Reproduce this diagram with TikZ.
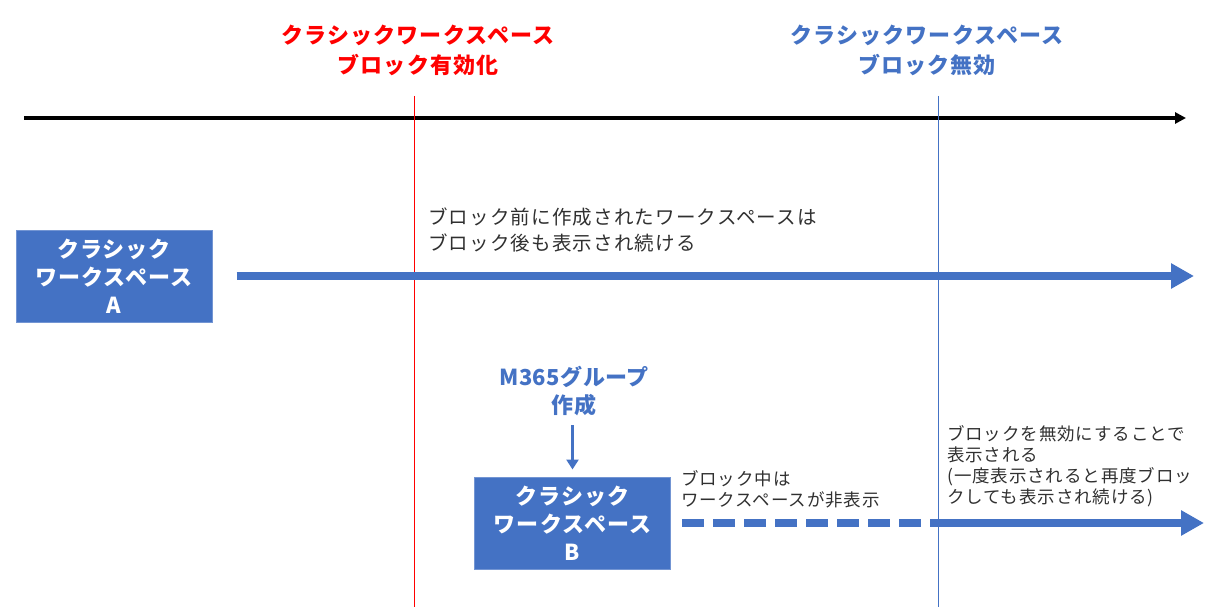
\documentclass[tikz,border=0pt]{standalone}
\usepackage{fontspec}
\setmainfont{Noto Sans CJK JP}
\newfontfamily\jpwide{Noto Sans CJK JP}[LetterSpace=5]
\newfontfamily\jpbody{Noto Sans CJK JP}[LetterSpace=6]
\newfontfamily\jpnarrow{Noto Sans CJK JP}[LetterSpace=2]
\usetikzlibrary{arrows.meta}
\definecolor{mblue}{HTML}{4472C4}
\definecolor{mred}{HTML}{FF0000}
\definecolor{mtext}{HTML}{303030}
\tikzset{
  wsbox/.style={rectangle, fill=mblue, draw=mblue!75!white, line width=1pt, text=white,
    font=\jpwide\fontsize{22}{28}\selectfont\bfseries, align=center, inner sep=0pt,
    minimum width=196pt, minimum height=92pt},
  toplabel/.style={font=\jpwide\fontsize{22}{30}\selectfont\bfseries, align=center, inner sep=0pt},
  m365label/.style={font=\jpnarrow\fontsize{22}{28}\selectfont\bfseries, align=center, inner sep=0pt},
  bodytext/.style={text=mtext, font=\jpbody\fontsize{19.5}{26}\selectfont, align=left, inner sep=0pt, anchor=west},
  smalltext/.style={text=mtext, font=\jpwide\fontsize{17.5}{21}\selectfont, align=left, inner sep=0pt, anchor=west},
  vline/.style={line width=1pt},
  thickarrow/.style={mblue, line width=8pt, -{Triangle[length=23pt,width=24pt]}},
}
\begin{document}
\begin{tikzpicture}[x=1pt,y=-1pt]
\useasboundingbox (0,0) rectangle (1220,607);
% axis
\coordinate (axs) at (24,118);
\coordinate (axe) at (1186,118);
\draw[line width=3.5pt, -{Triangle[length=11pt,width=11pt]}] (axs) -- (axe);
% vertical lines
\coordinate (rt) at (414,96);
\coordinate (rb) at (414,607);
\coordinate (bt) at (938,96);
\coordinate (bb) at (938,607);
\draw[vline, mred] (rt) -- (rb);
\draw[vline, mblue] (bt) -- (bb);
% top labels
\node[toplabel, text=mred] (lred) at (418,50) {クラシックワークスペース\\ブロック有効化};
\node[toplabel, text=mblue] (lblue) at (927,50) {クラシックワークスペース\\ブロック無効};
% box A
\node[wsbox] (boxA) at (114,276) {クラシック\\ワークスペース\\A};
\coordinate (aend) at (1194,276);
\draw[thickarrow] ([xshift=24pt]boxA.east) -- (aend);
\node[bodytext] (tA) at (428,230) {ブロック前に作成されたワークスペースは\\ブロック後も表示され続ける};
% M365
\node[m365label, text=mblue] (m365) at (574,391) {M365グループ\\作成};
% box B
\node[wsbox] (boxB) at (572.5,523) {クラシック\\ワークスペース\\B};
\draw[mblue, line width=3pt, -{Triangle[length=10pt,width=12pt]}] ([yshift=-9pt]boxB.north |- m365.south) -- ([yshift=7pt]boxB.north);
\coordinate (dend) at (937,523);
\coordinate (bend) at (1204,523);
\draw[mblue, line width=8pt, dash pattern=on 22pt off 9pt] ([xshift=11pt]boxB.east) -- (dend);
\draw[thickarrow] (dend) -- (bend);
\node[smalltext] (tB) at (681,489.5) {ブロック中は\\ワークスペースが非表示};
\node[smalltext] (tC) at (947,466) {ブロックを無効にすることで\\表示される\\(一度表示されると再度ブロッ\\クしても表示され続ける)};
\end{tikzpicture}
\end{document}
